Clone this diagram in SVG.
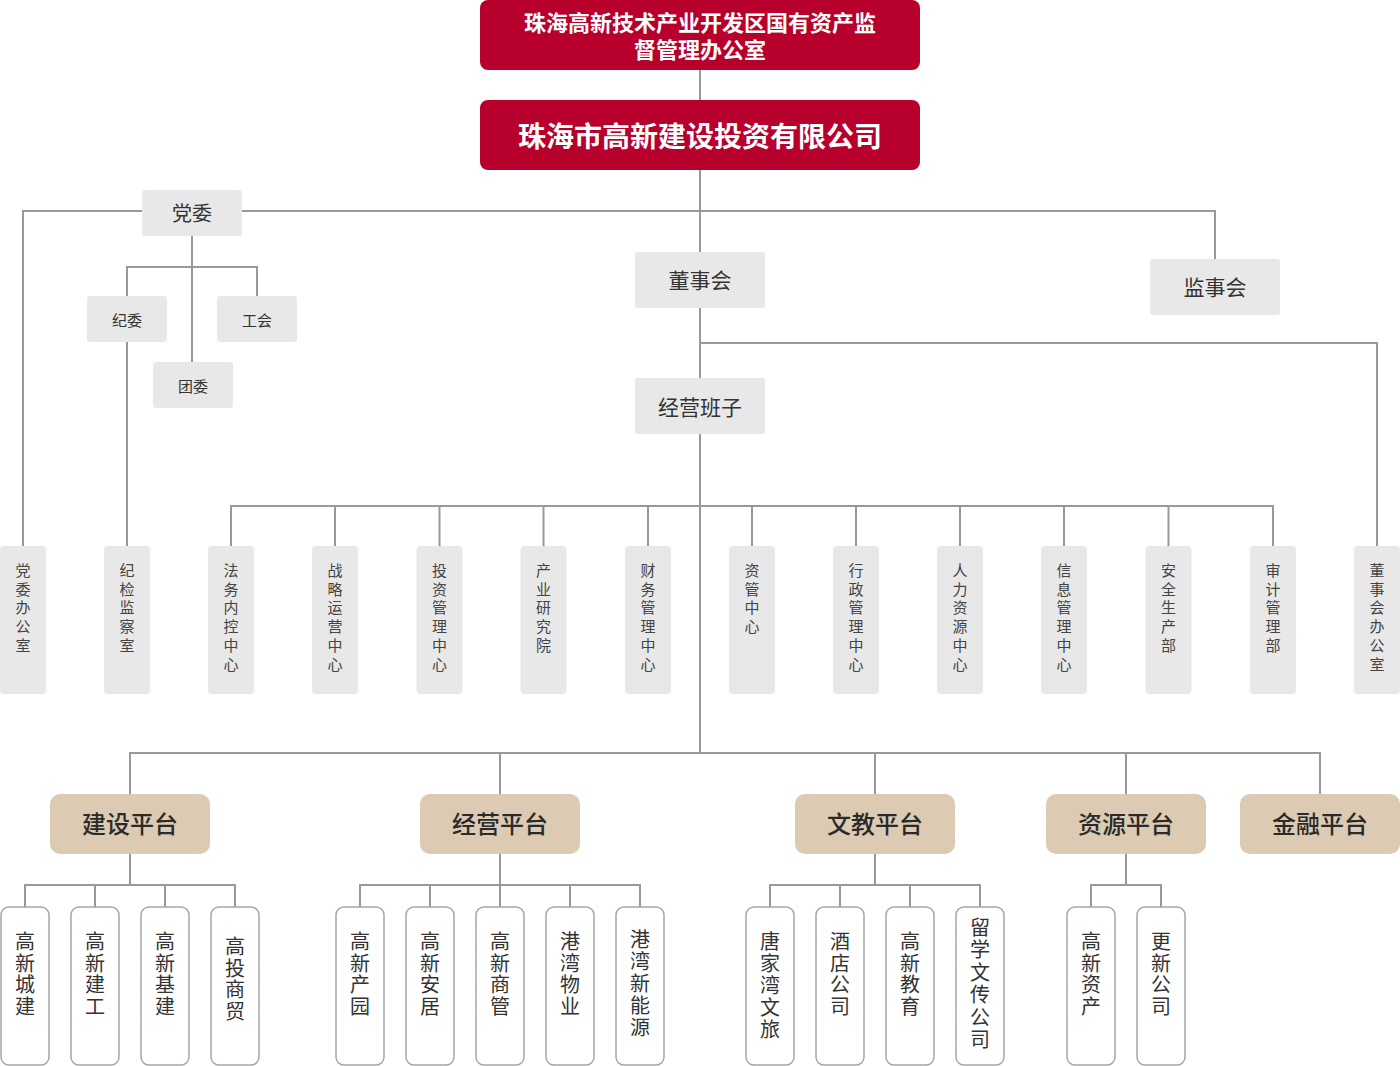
<svg xmlns="http://www.w3.org/2000/svg" width="1400" height="1066" viewBox="0 0 1400 1066">
<style>
text{font-family:"Noto Sans CJK SC","Noto Sans",sans-serif;text-anchor:middle}
.red{fill:#b8002c}
.gray{fill:#e8e8e8}
.tan{fill:#dccab2}
.sub{fill:#ffffff;stroke:#a6a6a6;stroke-width:1.5}
.wt{fill:#ffffff;font-weight:bold}
.gt{fill:#333333}
.mt{fill:#444444;font-size:15px}
.bt{fill:#333333;font-size:20px}
.pt{fill:#2a2a2a;font-size:24px;font-weight:500}
#connectors path{fill:none;stroke:#999999;stroke-width:2}
</style>
<g id="connectors">
<path d="M700 70V100M700 170V753"/>
<path d="M23 546V211H1215V259"/>
<path d="M192 236V362M127 296V267H257V296M127 342V546"/>
<path d="M700 343H1377V546"/>
<path d="M231 546V506H1273V546M335 506V546M439.5 506V546M543.5 506V546M648 506V546M752 506V546M856 506V546M960 506V546M1064 506V546M1168.5 506V546"/>
<path d="M130 794V753H1320V794M500 753V794M875 753V794M1126 753V794"/>
<path d="M130 854V885M25 907V885H235V907M95 885V907M165 885V907"/>
<path d="M500 854V907M360 907V885H640V907M430 885V907M570 885V907"/>
<path d="M875 854V885M770 907V885H980V907M840 885V907M910 885V907"/>
<path d="M1126 854V885M1091 907V885H1161V907"/>
</g>
<g id="n-sasac"><rect class="red" x="480" y="0" width="440" height="70" rx="8"/><text class="wt" x="700" y="30.5" font-size="22">珠海高新技术产业开发区国有资产监</text><text class="wt" x="700" y="58" font-size="22">督管理办公室</text></g>
<g id="n-company"><rect class="red" x="480" y="100" width="440" height="70" rx="8"/><text class="wt" x="700" y="147" font-size="28">珠海市高新建设投资有限公司</text></g>
<g id="n-dangwei"><rect class="gray" x="142" y="190" width="100" height="46" rx="3"/><text class="gt" x="192" y="220.5" font-size="20">党委</text></g>
<g id="n-jiwei"><rect class="gray" x="87" y="296" width="80" height="46" rx="3"/><text class="gt" x="127" y="325.5" font-size="15">纪委</text></g>
<g id="n-gonghui"><rect class="gray" x="217" y="296" width="80" height="46" rx="3"/><text class="gt" x="257" y="325.5" font-size="15">工会</text></g>
<g id="n-tuanwei"><rect class="gray" x="153" y="362" width="80" height="46" rx="3"/><text class="gt" x="193" y="391.5" font-size="15">团委</text></g>
<g id="n-dongshihui"><rect class="gray" x="635" y="252" width="130" height="56" rx="3"/><text class="gt" x="700" y="288" font-size="21">董事会</text></g>
<g id="n-jianshihui"><rect class="gray" x="1150" y="259" width="130" height="56" rx="3"/><text class="gt" x="1215" y="295" font-size="21">监事会</text></g>
<g id="n-jingying"><rect class="gray" x="635" y="378" width="130" height="56" rx="3"/><text class="gt" x="700" y="415" font-size="21">经营班子</text></g>

<g id="n-m0"><rect class="gray" x="0" y="546" width="46" height="148" rx="4"/><text class="mt"><tspan x="23" y="576">党</tspan><tspan x="23" dy="18.7">委</tspan><tspan x="23" dy="18.7">办</tspan><tspan x="23" dy="18.7">公</tspan><tspan x="23" dy="18.7">室</tspan></text></g>
<g id="n-m1"><rect class="gray" x="104" y="546" width="46" height="148" rx="4"/><text class="mt"><tspan x="127" y="576">纪</tspan><tspan x="127" dy="18.7">检</tspan><tspan x="127" dy="18.7">监</tspan><tspan x="127" dy="18.7">察</tspan><tspan x="127" dy="18.7">室</tspan></text></g>
<g id="n-m2"><rect class="gray" x="208" y="546" width="46" height="148" rx="4"/><text class="mt"><tspan x="231" y="576">法</tspan><tspan x="231" dy="18.7">务</tspan><tspan x="231" dy="18.7">内</tspan><tspan x="231" dy="18.7">控</tspan><tspan x="231" dy="18.7">中</tspan><tspan x="231" dy="18.7">心</tspan></text></g>
<g id="n-m3"><rect class="gray" x="312" y="546" width="46" height="148" rx="4"/><text class="mt"><tspan x="335" y="576">战</tspan><tspan x="335" dy="18.7">略</tspan><tspan x="335" dy="18.7">运</tspan><tspan x="335" dy="18.7">营</tspan><tspan x="335" dy="18.7">中</tspan><tspan x="335" dy="18.7">心</tspan></text></g>
<g id="n-m4"><rect class="gray" x="416.5" y="546" width="46" height="148" rx="4"/><text class="mt"><tspan x="439.5" y="576">投</tspan><tspan x="439.5" dy="18.7">资</tspan><tspan x="439.5" dy="18.7">管</tspan><tspan x="439.5" dy="18.7">理</tspan><tspan x="439.5" dy="18.7">中</tspan><tspan x="439.5" dy="18.7">心</tspan></text></g>
<g id="n-m5"><rect class="gray" x="520.5" y="546" width="46" height="148" rx="4"/><text class="mt"><tspan x="543.5" y="576">产</tspan><tspan x="543.5" dy="18.7">业</tspan><tspan x="543.5" dy="18.7">研</tspan><tspan x="543.5" dy="18.7">究</tspan><tspan x="543.5" dy="18.7">院</tspan></text></g>
<g id="n-m6"><rect class="gray" x="625" y="546" width="46" height="148" rx="4"/><text class="mt"><tspan x="648" y="576">财</tspan><tspan x="648" dy="18.7">务</tspan><tspan x="648" dy="18.7">管</tspan><tspan x="648" dy="18.7">理</tspan><tspan x="648" dy="18.7">中</tspan><tspan x="648" dy="18.7">心</tspan></text></g>
<g id="n-m7"><rect class="gray" x="729" y="546" width="46" height="148" rx="4"/><text class="mt"><tspan x="752" y="576">资</tspan><tspan x="752" dy="18.7">管</tspan><tspan x="752" dy="18.7">中</tspan><tspan x="752" dy="18.7">心</tspan></text></g>
<g id="n-m8"><rect class="gray" x="833" y="546" width="46" height="148" rx="4"/><text class="mt"><tspan x="856" y="576">行</tspan><tspan x="856" dy="18.7">政</tspan><tspan x="856" dy="18.7">管</tspan><tspan x="856" dy="18.7">理</tspan><tspan x="856" dy="18.7">中</tspan><tspan x="856" dy="18.7">心</tspan></text></g>
<g id="n-m9"><rect class="gray" x="937" y="546" width="46" height="148" rx="4"/><text class="mt"><tspan x="960" y="576">人</tspan><tspan x="960" dy="18.7">力</tspan><tspan x="960" dy="18.7">资</tspan><tspan x="960" dy="18.7">源</tspan><tspan x="960" dy="18.7">中</tspan><tspan x="960" dy="18.7">心</tspan></text></g>
<g id="n-m10"><rect class="gray" x="1041" y="546" width="46" height="148" rx="4"/><text class="mt"><tspan x="1064" y="576">信</tspan><tspan x="1064" dy="18.7">息</tspan><tspan x="1064" dy="18.7">管</tspan><tspan x="1064" dy="18.7">理</tspan><tspan x="1064" dy="18.7">中</tspan><tspan x="1064" dy="18.7">心</tspan></text></g>
<g id="n-m11"><rect class="gray" x="1145.5" y="546" width="46" height="148" rx="4"/><text class="mt"><tspan x="1168.5" y="576">安</tspan><tspan x="1168.5" dy="18.7">全</tspan><tspan x="1168.5" dy="18.7">生</tspan><tspan x="1168.5" dy="18.7">产</tspan><tspan x="1168.5" dy="18.7">部</tspan></text></g>
<g id="n-m12"><rect class="gray" x="1250" y="546" width="46" height="148" rx="4"/><text class="mt"><tspan x="1273" y="576">审</tspan><tspan x="1273" dy="18.7">计</tspan><tspan x="1273" dy="18.7">管</tspan><tspan x="1273" dy="18.7">理</tspan><tspan x="1273" dy="18.7">部</tspan></text></g>
<g id="n-m13"><rect class="gray" x="1354" y="546" width="46" height="148" rx="4"/><text class="mt"><tspan x="1377" y="576">董</tspan><tspan x="1377" dy="18.7">事</tspan><tspan x="1377" dy="18.7">会</tspan><tspan x="1377" dy="18.7">办</tspan><tspan x="1377" dy="18.7">公</tspan><tspan x="1377" dy="18.7">室</tspan></text></g>

<g id="n-p-jianshe"><rect class="tan" x="50" y="794" width="160" height="60" rx="10"/><text class="pt" x="130" y="833">建设平台</text></g>
<g id="n-p-jingying"><rect class="tan" x="420" y="794" width="160" height="60" rx="10"/><text class="pt" x="500" y="833">经营平台</text></g>
<g id="n-p-wenjiao"><rect class="tan" x="795" y="794" width="160" height="60" rx="10"/><text class="pt" x="875" y="833">文教平台</text></g>
<g id="n-p-ziyuan"><rect class="tan" x="1046" y="794" width="160" height="60" rx="10"/><text class="pt" x="1126" y="833">资源平台</text></g>
<g id="n-p-jinrong"><rect class="tan" x="1240" y="794" width="160" height="60" rx="10"/><text class="pt" x="1320" y="833">金融平台</text></g>

<g id="n-b1"><rect class="sub" x="1" y="907" width="48" height="158" rx="8"/><text class="bt"><tspan x="25" y="949">高</tspan><tspan x="25" dy="21.7">新</tspan><tspan x="25" dy="21.7">城</tspan><tspan x="25" dy="21.7">建</tspan></text></g>
<g id="n-b2"><rect class="sub" x="71" y="907" width="48" height="158" rx="8"/><text class="bt"><tspan x="95" y="949">高</tspan><tspan x="95" dy="21.7">新</tspan><tspan x="95" dy="21.7">建</tspan><tspan x="95" dy="21.7">工</tspan></text></g>
<g id="n-b3"><rect class="sub" x="141" y="907" width="48" height="158" rx="8"/><text class="bt"><tspan x="165" y="949">高</tspan><tspan x="165" dy="21.7">新</tspan><tspan x="165" dy="21.7">基</tspan><tspan x="165" dy="21.7">建</tspan></text></g>
<g id="n-b4"><rect class="sub" x="211" y="907" width="48" height="158" rx="8"/><text class="bt"><tspan x="235" y="954">高</tspan><tspan x="235" dy="21.7">投</tspan><tspan x="235" dy="21.7">商</tspan><tspan x="235" dy="21.7">贸</tspan></text></g>
<g id="n-b5"><rect class="sub" x="336" y="907" width="48" height="158" rx="8"/><text class="bt"><tspan x="360" y="949">高</tspan><tspan x="360" dy="21.7">新</tspan><tspan x="360" dy="21.7">产</tspan><tspan x="360" dy="21.7">园</tspan></text></g>
<g id="n-b6"><rect class="sub" x="406" y="907" width="48" height="158" rx="8"/><text class="bt"><tspan x="430" y="949">高</tspan><tspan x="430" dy="21.7">新</tspan><tspan x="430" dy="21.7">安</tspan><tspan x="430" dy="21.7">居</tspan></text></g>
<g id="n-b7"><rect class="sub" x="476" y="907" width="48" height="158" rx="8"/><text class="bt"><tspan x="500" y="949">高</tspan><tspan x="500" dy="21.7">新</tspan><tspan x="500" dy="21.7">商</tspan><tspan x="500" dy="21.7">管</tspan></text></g>
<g id="n-b8"><rect class="sub" x="546" y="907" width="48" height="158" rx="8"/><text class="bt"><tspan x="570" y="949">港</tspan><tspan x="570" dy="21.7">湾</tspan><tspan x="570" dy="21.7">物</tspan><tspan x="570" dy="21.7">业</tspan></text></g>
<g id="n-b9"><rect class="sub" x="616" y="907" width="48" height="158" rx="8"/><text class="bt"><tspan x="640" y="947">港</tspan><tspan x="640" dy="22">湾</tspan><tspan x="640" dy="22">新</tspan><tspan x="640" dy="22">能</tspan><tspan x="640" dy="22">源</tspan></text></g>
<g id="n-b10"><rect class="sub" x="746" y="907" width="48" height="158" rx="8"/><text class="bt"><tspan x="770" y="949">唐</tspan><tspan x="770" dy="22">家</tspan><tspan x="770" dy="22">湾</tspan><tspan x="770" dy="22">文</tspan><tspan x="770" dy="22">旅</tspan></text></g>
<g id="n-b11"><rect class="sub" x="816" y="907" width="48" height="158" rx="8"/><text class="bt"><tspan x="840" y="949">酒</tspan><tspan x="840" dy="21.7">店</tspan><tspan x="840" dy="21.7">公</tspan><tspan x="840" dy="21.7">司</tspan></text></g>
<g id="n-b12"><rect class="sub" x="886" y="907" width="48" height="158" rx="8"/><text class="bt"><tspan x="910" y="949">高</tspan><tspan x="910" dy="21.7">新</tspan><tspan x="910" dy="21.7">教</tspan><tspan x="910" dy="21.7">育</tspan></text></g>
<g id="n-b13"><rect class="sub" x="956" y="907" width="48" height="158" rx="8"/><text class="bt"><tspan x="980" y="935">留</tspan><tspan x="980" dy="22.4">学</tspan><tspan x="980" dy="22.4">文</tspan><tspan x="980" dy="22.4">传</tspan><tspan x="980" dy="22.4">公</tspan><tspan x="980" dy="22.4">司</tspan></text></g>
<g id="n-b14"><rect class="sub" x="1067" y="907" width="48" height="158" rx="8"/><text class="bt"><tspan x="1091" y="949">高</tspan><tspan x="1091" dy="21.7">新</tspan><tspan x="1091" dy="21.7">资</tspan><tspan x="1091" dy="21.7">产</tspan></text></g>
<g id="n-b15"><rect class="sub" x="1137" y="907" width="48" height="158" rx="8"/><text class="bt"><tspan x="1161" y="949">更</tspan><tspan x="1161" dy="21.7">新</tspan><tspan x="1161" dy="21.7">公</tspan><tspan x="1161" dy="21.7">司</tspan></text></g>
</svg>
